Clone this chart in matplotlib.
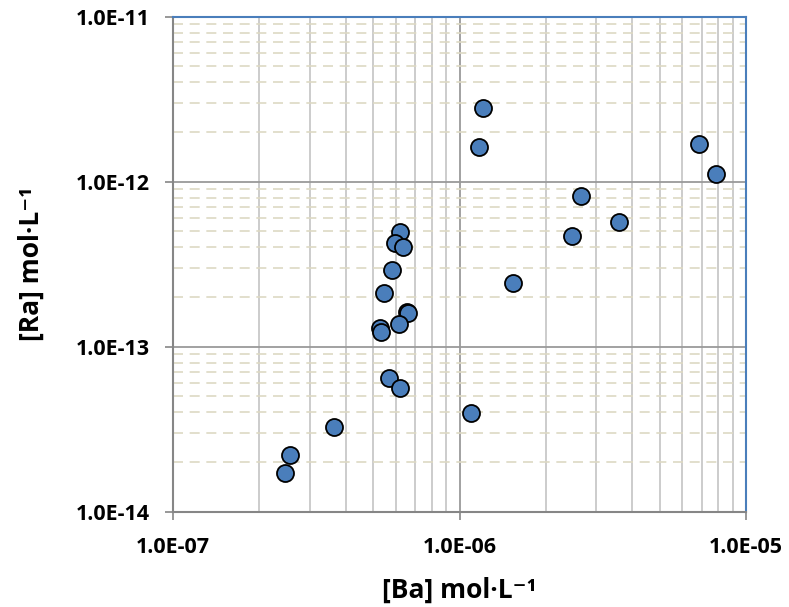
import matplotlib
matplotlib.use("Agg")
import matplotlib.pyplot as plt
from matplotlib.ticker import LogLocator, FuncFormatter, NullFormatter

# [Ba] and [Ra] concentrations, mol/L
ba = [2.45e-7, 2.56e-7, 3.65e-7, 6.21e-7, 5.96e-7, 6.34e-7, 5.81e-7, 5.43e-7,
      6.55e-7, 6.63e-7, 6.17e-7, 5.28e-7, 5.31e-7, 5.68e-7, 6.21e-7,
      1.21e-6, 1.17e-6, 1.54e-6, 1.10e-6, 2.66e-6, 2.46e-6, 3.61e-6,
      6.88e-6, 7.88e-6]
ra = [1.71e-14, 2.20e-14, 3.27e-14, 4.98e-13, 4.23e-13, 4.00e-13, 2.92e-13, 2.11e-13,
      1.63e-13, 1.59e-13, 1.37e-13, 1.29e-13, 1.22e-13, 6.43e-14, 5.64e-14,
      2.79e-12, 1.63e-12, 2.42e-13, 3.95e-14, 8.23e-13, 4.71e-13, 5.70e-13,
      1.69e-12, 1.11e-12]

x_lim = (1e-7, 1e-5)
y_lim = (1e-14, 1e-11)

plt.rcParams['font.family'] = ['Open Sans', 'DejaVu Sans']
plt.rcParams['font.weight'] = 'bold'

fig = plt.figure(figsize=(7.89, 6.07), dpi=100)
ax = fig.add_axes([0.2193, 0.157, 0.7262, 0.8155])

ax.set_xscale('log')
ax.set_yscale('log')
ax.set_xlim(*x_lim)
ax.set_ylim(*y_lim)

ax.xaxis.set_major_locator(LogLocator(base=10, numticks=10))
ax.yaxis.set_major_locator(LogLocator(base=10, numticks=10))
ax.xaxis.set_minor_locator(LogLocator(base=10, subs=range(2, 10), numticks=20))
ax.yaxis.set_minor_locator(LogLocator(base=10, subs=range(2, 10), numticks=20))
fmt = FuncFormatter(lambda v, p: f"{v:.1E}")
ax.xaxis.set_major_formatter(fmt)
ax.yaxis.set_major_formatter(fmt)
ax.xaxis.set_minor_formatter(NullFormatter())
ax.yaxis.set_minor_formatter(NullFormatter())

# grids
ax.grid(which='major', axis='both', color='#9a9a9a', linewidth=1.3)
ax.grid(which='minor', axis='x', color='#c4c4c4', linewidth=1.2)
ax.grid(which='minor', axis='y', color='#ddd9c3', linewidth=1.2, linestyle=(0, (6, 4)))
ax.set_axisbelow(True)

ax.scatter(ba, ra, s=150, color='#4a7ebb', edgecolor='black', linewidth=1.3, zorder=3)

for side in ['top', 'right']:
    ax.spines[side].set_color('#4a7ebb')
    ax.spines[side].set_linewidth(1.5)
for side in ['left', 'bottom']:
    ax.spines[side].set_color('#868686')
    ax.spines[side].set_linewidth(1.5)

ax.tick_params(which='major', length=6, width=1.2, color='#868686', direction='out')
ax.tick_params(which='minor', length=0)
ax.tick_params(axis='x', which='major', pad=12, labelsize=15.5)
ax.tick_params(axis='y', which='major', pad=11, labelsize=15.5)

ax.set_xlabel('[Ba] mol·L⁻¹', fontsize=19, fontweight='bold', labelpad=14)
ax.set_ylabel('[Ra] mol·L⁻¹', fontsize=19, fontweight='bold', labelpad=22)

fig.savefig('out.png', dpi=100)
